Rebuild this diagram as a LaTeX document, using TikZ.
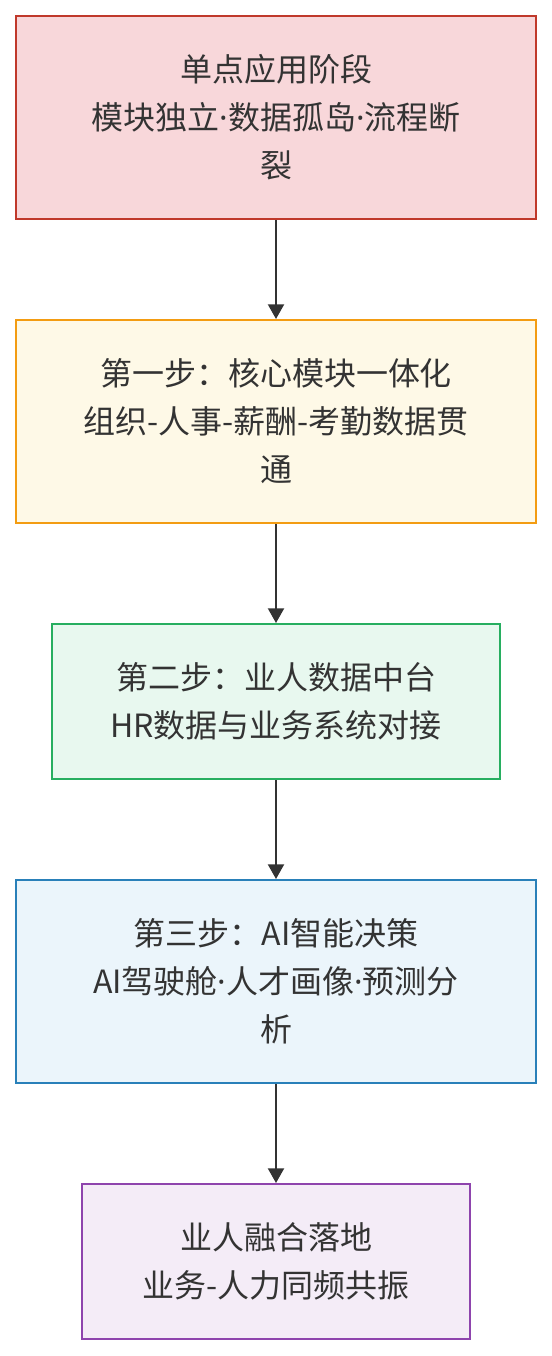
\documentclass[tikz,border=0pt]{standalone}
\usepackage{fontspec}
\setmainfont{Noto Sans CJK SC}
\newfontfamily\latinfont{Noto Sans}
\newcommand\middot{{\latinfont ·}}
\usetikzlibrary{arrows.meta}
\definecolor{txt}{HTML}{333333}
\definecolor{f1}{HTML}{F8D7DA}\definecolor{d1}{HTML}{C0392B}
\definecolor{f2}{HTML}{FEF9E7}\definecolor{d2}{HTML}{F39C12}
\definecolor{f3}{HTML}{E8F8EF}\definecolor{d3}{HTML}{27AE60}
\definecolor{f4}{HTML}{EBF5FB}\definecolor{d4}{HTML}{2980B9}
\definecolor{f5}{HTML}{F4ECF7}\definecolor{d5}{HTML}{8E44AD}
\tikzset{
  stagebox/.style={rectangle, line width=1.5pt, inner sep=0pt, align=center,
    text=txt, font=\fontsize{24}{36}\selectfont},
  flow/.style={draw=txt, line width=1.5pt, -{Triangle[length=11pt,width=12pt]}}
}
\begin{document}
\begin{tikzpicture}[x=0.75pt,y=-0.75pt]
\useasboundingbox (0,0) rectangle (552,1356);
\node[stagebox, draw=d1, fill=f1, minimum width=390pt, minimum height=152.25pt] (b1) at (276,117.5)
  {单点应用阶段\\模块独立\middot 数据孤岛\middot 流程断\\裂};
\node[stagebox, draw=d2, fill=f2, minimum width=390pt, minimum height=152.25pt] (b2) at (276,421.5)
  {第一步：核心模块一体化\\组织-人事-薪酬-考勤数据贯\\通};
\node[stagebox, draw=d3, fill=f3, minimum width=336pt, minimum height=116.25pt] (b3) at (276,701.5)
  {第二步：业人数据中台\\HR数据与业务系统对接};
\node[stagebox, draw=d4, fill=f4, minimum width=390pt, minimum height=152.25pt] (b4) at (276,981.5)
  {第三步：AI智能决策\\AI驾驶舱\middot 人才画像\middot 预测分\\析};
\node[stagebox, draw=d5, fill=f5, minimum width=291pt, minimum height=116.25pt] (b5) at (276,1261.5)
  {业人融合落地\\业务-人力同频共振};
\draw[flow] (b1) -- (b2);
\draw[flow] (b2) -- (b3);
\draw[flow] (b3) -- (b4);
\draw[flow] (b4) -- (b5);
\end{tikzpicture}
\end{document}
